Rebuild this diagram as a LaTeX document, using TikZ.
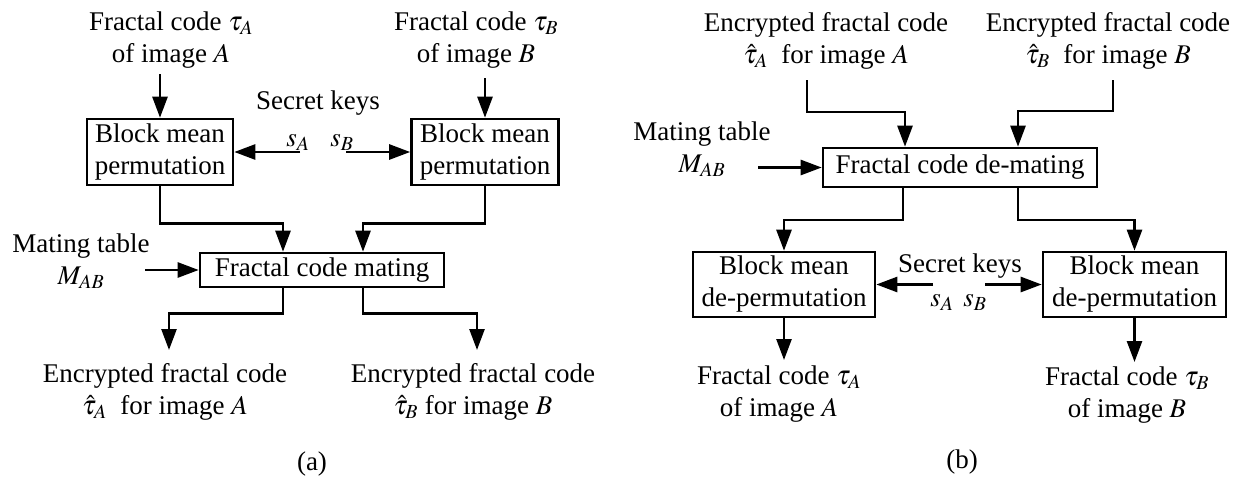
\documentclass[tikz,border=0pt]{standalone}
\usepackage{mathptmx}
\usepackage{fontspec}
\setmainfont{Liberation Serif}
\usetikzlibrary{arrows.meta}
\newcommand\fsz{\fontsize{27}{32}\selectfont}
\tikzset{
  blk/.style={draw, line width=2.6pt, inner sep=0pt, align=center, font=\fsz},
  lbl/.style={inner sep=0pt, align=center, font=\fsz},
  conn/.style={line width=2.6pt, -{Triangle[length=21pt,width=15pt]}},
}
\begin{document}
\begin{tikzpicture}[x=1pt,y=-1pt]
\useasboundingbox (0,0) rectangle (1242,479);
% ---------- panel (a) ----------
\node[lbl, anchor=north] (fa) at (171,11.6) {Fractal code $\tau_A$\\of image $A$};
\node[lbl, anchor=north] (fb) at (476,11.6) {Fractal code $\tau_B$\\of image $B$};
\node[blk, minimum width=146pt, minimum height=66pt] (pa) at (160,152) {Block mean\\permutation};
\node[blk, minimum width=147pt, minimum height=66pt] (pb) at (485,152) {Block mean\\permutation};
\coordinate (fa0) at (160,74);
\coordinate (fb0) at (485,78);
\draw[conn] (fa0) -- (pa.north);
\draw[conn] (fb0) -- (pb.north);
\node[lbl, anchor=base] (ka) at (318,109) {Secret keys};
\node[lbl, anchor=base] (sa) at (298,146) {$s_A$};
\node[lbl, anchor=base] (sb) at (342,146) {$s_B$};
\coordinate (sa0) at (300,152);
\coordinate (sb0) at (346,152);
\draw[conn] (sa0) -- (pa.east);
\draw[conn] (sb0) -- (pb.west);
\node[blk, minimum width=244pt, minimum height=34pt] (m) at (322,270) {Fractal code mating};
\draw[conn] (pa.south) -- ++(0,37) -| ([xshift=-39pt]m.north);
\draw[conn] (pb.south) -- ++(0,37) -| ([xshift=41pt]m.north);
\node[lbl, anchor=north] (mt) at (81,233.6) {Mating table\\$M_{AB}$};
\coordinate (mt0) at (145,270);
\draw[conn] (mt0) -- (m.west);
\node[lbl, anchor=north] (ea) at (165,363.6) {Encrypted fractal code\\$\hat{\tau}_A$\ \ for image $A$};
\node[lbl, anchor=north] (eb) at (473,363.6) {Encrypted fractal code\\$\hat{\tau}_B$ for image $B$};
\coordinate (ta0) at (169,350);
\coordinate (tb0) at (477,350);
\draw[conn] ([xshift=-39pt]m.south) -- ++(0,25) -| (ta0);
\draw[conn] ([xshift=41pt]m.south) -- ++(0,25) -| (tb0);
\node[lbl, anchor=base] (capa) at (312,470) {(a)};
% ---------- panel (b) ----------
\node[lbl, anchor=north] (ua) at (826,12.6) {Encrypted fractal code\\$\hat{\tau}_A$\ \ for image $A$};
\node[lbl, anchor=north] (ub) at (1108,12.6) {Encrypted fractal code\\$\hat{\tau}_B$\ \ for image $B$};
\node[blk, minimum width=274pt, minimum height=39pt] (d) at (960,167.5) {Fractal code de-mating};
\coordinate (ua0) at (807,80);
\coordinate (ub0) at (1113,80);
\draw[conn] (ua0) -- ++(0,32) -| ([xshift=-55pt]d.north);
\draw[conn] (ub0) -- ++(0,31) -| ([xshift=58pt]d.north);
\node[lbl, anchor=north] (mt2) at (702,121.6) {Mating table\\$M_{AB}$};
\coordinate (mt20) at (758,167.5);
\draw[conn] (mt20) -- (d.west);
\node[blk, minimum width=182pt, minimum height=65pt] (qa) at (784,284.5) {Block mean\\de-permutation};
\node[blk, minimum width=183pt, minimum height=65pt] (qb) at (1134.5,284.5) {Block mean\\de-permutation};
\draw[conn] ([xshift=-57pt]d.south) -- ++(0,31.5) -| (qa.north);
\draw[conn] ([xshift=58pt]d.south) -- ++(0,31.5) -| (qb.north);
\node[lbl, anchor=base] (kb) at (960,272) {Secret keys};
\node[lbl, anchor=base] (sa2) at (942,306) {$s_A$};
\node[lbl, anchor=base] (sb2) at (975,306) {$s_B$};
\coordinate (sa20) at (933,284.5);
\coordinate (sb20) at (985,284.5);
\draw[conn] (sa20) -- (qa.east);
\draw[conn] (sb20) -- (qb.west);
\coordinate (qa0) at (784,360);
\coordinate (qb0) at (1134.5,362);
\draw[conn] (qa.south) -- (qa0);
\draw[conn] (qb.south) -- (qb0);
\node[lbl, anchor=north] (va) at (779,365.6) {Fractal code $\tau_A$\\of image $A$};
\node[lbl, anchor=north] (vb) at (1127,366.6) {Fractal code $\tau_B$\\of image $B$};
\node[lbl, anchor=base] (capb) at (962,468) {(b)};
\end{tikzpicture}
\end{document}
